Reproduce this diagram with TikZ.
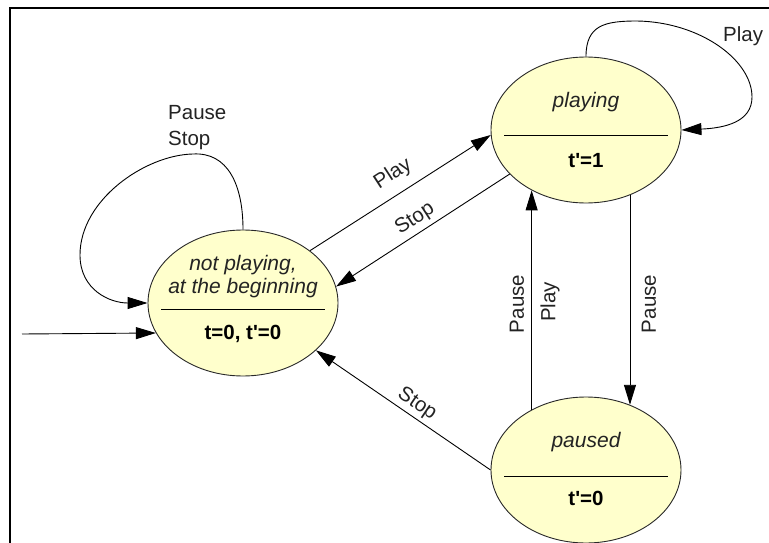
\documentclass[tikz,border=0pt]{standalone}
\usepackage{fontspec}
\setmainfont{Liberation Sans}
\usetikzlibrary{arrows.meta,shapes.geometric}
\definecolor{statefill}{RGB}{255,255,204}
\definecolor{stateline}{RGB}{40,40,40}
\definecolor{txt}{RGB}{35,35,35}
\tikzset{
  state/.style={ellipse, draw=stateline, fill=statefill, line width=0.9pt,
    minimum width=190pt, minimum height=146pt, inner sep=0pt},
  edge/.style={draw=black, line width=0.9pt, -{Triangle[length=20pt,width=12pt]}},
  lbl/.style={font=\fontsize{20.5}{22}\selectfont, text=txt, inner sep=0pt},
  itl/.style={font=\fontsize{21}{23}\selectfont\itshape, text=txt, inner sep=0pt, anchor=base},
  bld/.style={font=\fontsize{20.5}{22}\selectfont\bfseries, text=black, inner sep=0pt, anchor=base},
  divider/.style={draw=black, line width=1pt},
  frameline/.style={draw=black, line width=2pt}
}
\begin{document}
\begin{tikzpicture}[x=1pt,y=-1pt]
\useasboundingbox (0,0) rectangle (769,543);
\fill[white] (0,0) rectangle (769,543);
\draw[frameline] (10,543) -- (10,8) -- (769,8);

% states
\node[state] (np) at (243,303) {};
\node[state] (pl) at (586,130) {};
\node[state] (pa) at (586,470) {};

% state texts
\node[itl] (np1) at (243,270) {not playing,};
\node[itl] (np2) at (243,293) {at the beginning};
\node[bld] (np3) at (243,339) {t=0, t\textquotesingle=0};
\draw[divider] ([xshift=-82pt,yshift=-6pt]np.center) -- ([xshift=82pt,yshift=-6pt]np.center);

\node[itl] (pl1) at (586,107) {playing};
\node[bld] (pl2) at (586,167) {t\textquotesingle=1};
\draw[divider] ([xshift=-82pt,yshift=-5pt]pl.center) -- ([xshift=82pt,yshift=-5pt]pl.center);

\node[itl] (pa1) at (586,447) {paused};
\node[bld] (pa2) at (586,505) {t\textquotesingle=0};
\draw[divider] ([xshift=-82pt,yshift=-6pt]pa.center) -- ([xshift=82pt,yshift=-6pt]pa.center);

% initial arrow
\coordinate (init) at (22,334);
\draw[edge] (init) -- (np.199);

% self loops
\draw[edge] (np.90) .. controls (243,185) and (228,152) .. (193,154)
  .. controls (145,155) and (80,200) .. (80,255)
  .. controls (80,290) and (110,303) .. (np.180);
\draw[edge] (pl.90) .. controls (586,25) and (605,21) .. (637,21)
  .. controls (700,22) and (752,60) .. (752,97)
  .. controls (752,122) and (725,128) .. (pl.0);

% transitions
\draw[edge] (np.38) -- (pl.183);
\draw[edge] (pl.210) -- (np.10);
\draw[edge] (pa.180) -- (np.-33);
\draw[edge] (pa.132) -- (pl.228);
\draw[edge] (pl.-56) -- (pa.56);

% labels
\node[lbl, anchor=base west] (lpause) at (168,120) {Pause};
\node[lbl, anchor=base west] (lstop) at (168,145) {Stop};
\node[lbl, anchor=base west] (lplayloop) at (723,42) {Play};
\node[lbl, rotate=33] (lplay) at (393,174) {Play};
\node[lbl, rotate=33] (lstop1) at (415,219) {Stop};
\node[lbl, rotate=-34] (lstop2) at (417,404) {Stop};
\node[lbl, rotate=90] (lpause1) at (517,304) {Pause};
\node[lbl, rotate=90] (lplay2) at (550,302) {Play};
\node[lbl, rotate=90] (lpause2) at (649,304) {Pause};
\end{tikzpicture}
\end{document}
